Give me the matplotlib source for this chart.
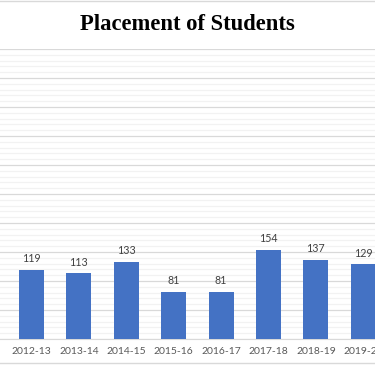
import matplotlib
matplotlib.use("Agg")
import matplotlib.pyplot as plt
from matplotlib.ticker import MultipleLocator
import numpy as np

title = "Placement of Students"
tick_labels = ["2011-12", "2012-13", "2013-14", "2014-15", "2015-16", "2016-17",
               "2017-18", "2018-19", "2019-20"]
categories = ["2012-13", "2013-14", "2014-15", "2015-16", "2016-17",
              "2017-18", "2018-19", "2019-20"]
values = [119, 113, 133, 81, 81, 154, 137, 129]

W, H = 375, 366
fig = plt.figure(figsize=(W / 100, H / 100), dpi=100)
ax = fig.add_axes([0, (H - 339) / H, 1, 290 / H])

pos = np.arange(len(categories))
ax.bar(pos, values, width=0.53, color="#4472C4", zorder=3)
for x, v in zip(pos, values):
    ax.annotate(str(v), (x, v), xytext=(0, 4), textcoords="offset points",
                ha="center", va="bottom", fontsize=7.7, color="#404040",
                family="Lato")

tick_pos = np.arange(-1, len(categories))
ax.set_xticks(tick_pos)
ax.set_xticklabels(tick_labels, fontsize=7.5, color="#595959", family="Lato")
ax.tick_params(axis="x", length=0, pad=6)
ax.set_xlim(-31.5 / 47.4, (W - 31.5) / 47.4)
ax.set_ylim(0, 500)
ax.yaxis.set_major_locator(MultipleLocator(50))
ax.yaxis.set_minor_locator(MultipleLocator(10))
ax.tick_params(axis="y", which="both", left=False, labelleft=False)
ax.grid(axis="y", which="major", color="#d9d9d9", linewidth=0.9, zorder=0)
ax.grid(axis="y", which="minor", color="#f2f2f2", linewidth=0.9, zorder=0)
for s in ["left", "right", "top"]:
    ax.spines[s].set_visible(False)
ax.spines["bottom"].set_color("#d9d9d9")

fig.text(0.5, 1 - 24 / H, title, ha="center", va="center", fontsize=16.3,
         fontweight="bold", family="Liberation Serif", color="black")

# chart border lines
fig.add_artist(plt.Line2D([0, 1], [1 - 1 / H, 1 - 1 / H], color="#d9d9d9", lw=1))
fig.add_artist(plt.Line2D([0, 1], [3 / H, 3 / H], color="#d9d9d9", lw=1))

fig.savefig("out.png", dpi=100)
